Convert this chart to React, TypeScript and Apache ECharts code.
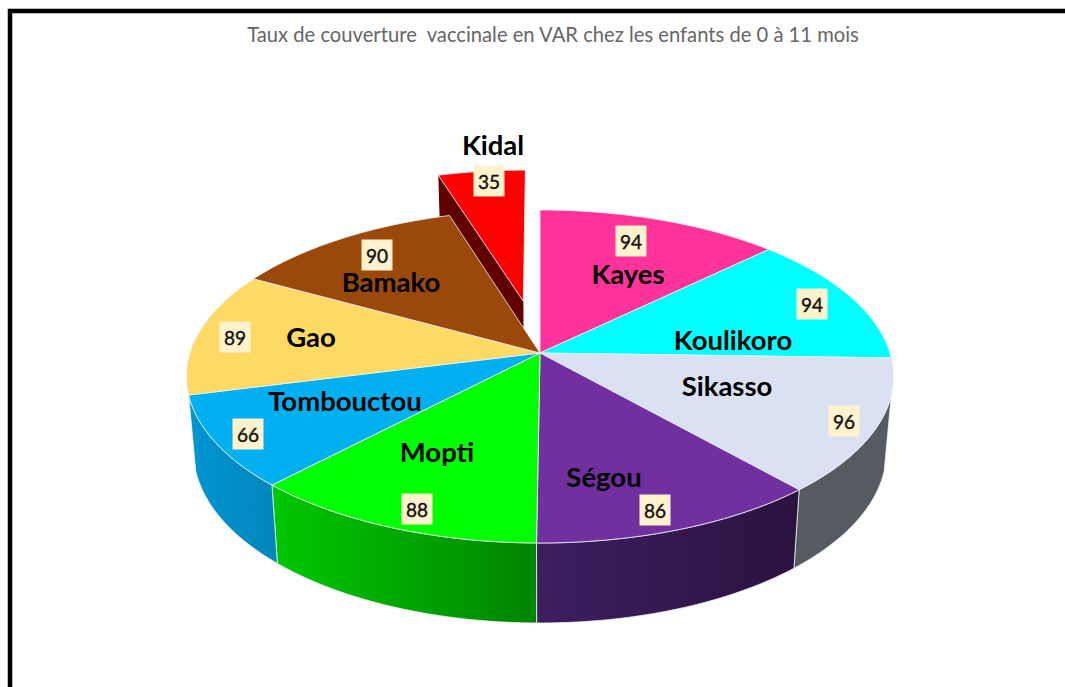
import React, { useEffect, useRef } from "react";
import * as echarts from "echarts";

const TITLE = "Taux de couverture  vaccinale en VAR chez les enfants de 0 à 11 mois";
const REGIONS = ["Kayes", "Koulikoro", "Sikasso", "Ségou", "Mopti", "Tombouctou", "Gao", "Bamako", "Kidal"];
const VALUES = [94, 94, 96, 86, 88, 66, 89, 90, 35];

// Styling and layout, separate from the data
const TOP_COLORS = ["#FF3399", "#00FFFF", "#D9E1F2", "#7030A0", "#00FF00", "#00B0F0", "#FFD966", "#9A490A", "#FF0000"];
const WALL_COLORS: string[][] = [
  ["#C02070", "#C02070"], ["#00BBBB", "#00BBBB"], ["#565A61", "#565A61"], ["#3E1E60", "#2A1240"],
  ["#00C800", "#008400"], ["#0096D2", "#0086BA"], ["#B89A40", "#B89A40"], ["#602C04", "#602C04"], ["#600000", "#600000"],
];
const EXPLODE = [0, 0, 0, 0, 0, 0, 0, 0, 0.335];
const NAME_OFFSET: number[][] = [[88, -79.5], [193, -13.5], [187, 32.5], [64, 123.5], [-103, 98.5], [-195, 47.5], [-229, -16.5], [-149, -71.5], [-47, -208.5]];
const VALUE_OFFSET: number[][] = [[91, -112], [272, -49], [304, 68], [115, 157], [-123, 156], [-292, 81], [-305, -16], [-163, -98], [-51, -172]];

const CX = 540, CY = 353, RX = 350, RY = 163.2, PERSP = 0.141;
const WALL_FROM = 104.5, WALL_TO = 255.6;
const TOTAL = VALUES.reduce((a, b) => a + b, 0);
const rad = (d: number) => (d * Math.PI) / 180;

const startAngle = (i: number) => (VALUES.slice(0, i).reduce((a, b) => a + b, 0) / TOTAL) * 360;
const topPoint = (u: number, v: number) => {
  const w = 1 + PERSP * v;
  return [CX + (RX * u) / w, CY - (RY * v) / w];
};
const bottomPoint = (u: number, v: number) => {
  const w = 1 + PERSP * v;
  return [CX + (0.98 * RX * u) / w, CY - (RY * v) / w + 74 - 6 * v];
};

function renderWedge(params: any, api: any) {
  const i = api.value(0) as number;
  const value = api.value(1) as number;
  const a0 = startAngle(i);
  const a1 = a0 + (value / TOTAL) * 360;
  const mid = rad((a0 + a1) / 2);
  const eu = EXPLODE[i] * Math.sin(mid);
  const ev = EXPLODE[i] * Math.cos(mid);
  const rim = (a: number) => [Math.sin(rad(a)) + eu, Math.cos(rad(a)) + ev];
  const children: any[] = [];
  const seam = "rgba(240,240,245,0.8)";

  if (EXPLODE[i] > 0) {
    const c = rim(a0);
    children.push({
      type: "polygon",
      shape: { points: [topPoint(eu, ev), topPoint(c[0], c[1]), bottomPoint(c[0], c[1]), bottomPoint(eu, ev)] },
      style: { fill: WALL_COLORS[i][0] },
    });
  }
  const w0 = Math.max(a0, WALL_FROM);
  const w1 = Math.min(a1, WALL_TO);
  if (w1 > w0) {
    const upper: number[][] = [];
    const lower: number[][] = [];
    for (let a = w0; a < w1; a += 1) {
      const p = rim(a);
      upper.push(topPoint(p[0], p[1]));
      lower.unshift(bottomPoint(p[0], p[1]));
    }
    const e = rim(w1);
    upper.push(topPoint(e[0], e[1]));
    lower.unshift(bottomPoint(e[0], e[1]));
    children.push({
      type: "polygon",
      shape: { points: upper.concat(lower) },
      style: {
        fill: new echarts.graphic.LinearGradient(0, 0, 1, 0, [
          { offset: 0, color: WALL_COLORS[i][0] },
          { offset: 1, color: WALL_COLORS[i][1] },
        ]),
        stroke: seam,
        lineWidth: 1,
      },
    });
  }
  const points: number[][] = [topPoint(eu, ev)];
  for (let a = a0; a < a1; a += 1) {
    const p = rim(a);
    points.push(topPoint(p[0], p[1]));
  }
  const last = rim(a1);
  points.push(topPoint(last[0], last[1]));
  children.push({
    type: "polygon",
    shape: { points },
    style: { fill: TOP_COLORS[i], stroke: seam, lineWidth: 1 },
  });
  return { type: "group", children };
}

function renderLabels(params: any, api: any) {
  const i = api.value(0) as number;
  const vx = CX + VALUE_OFFSET[i][0];
  const vy = CY + VALUE_OFFSET[i][1];
  const font = "Lato, 'Open Sans', sans-serif";
  return {
    type: "group",
    children: [
      {
        type: "rect",
        shape: { x: vx - 15.5, y: vy - 15.5, width: 31, height: 31 },
        style: { fill: "#FFF2CC" },
      },
      {
        type: "text",
        x: vx,
        y: vy,
        style: {
          text: String(api.value(1)),
          fill: "#111111",
          stroke: "#111111",
          lineWidth: 0.4,
          font: `normal 19px ${font}`,
          align: "center",
          verticalAlign: "middle",
        },
      },
      {
        type: "text",
        x: CX + NAME_OFFSET[i][0],
        y: CY + NAME_OFFSET[i][1],
        style: {
          text: REGIONS[i],
          fill: "#000000",
          font: `bold 27.5px ${font}`,
          align: "center",
          verticalAlign: "middle",
        },
      },
    ],
  };
}

export default function App() {
  const ref = useRef<HTMLDivElement>(null);
  useEffect(() => {
    document.body.style.margin = "0";
    const chart = echarts.init(ref.current!, undefined, { renderer: "svg" });
    const rows = VALUES.map((v, i) => [i, v]);
    const isExploded = (r: number[]) => EXPLODE[r[0]] > 0;
    chart.setOption({
      animation: false,
      backgroundColor: "#FFFFFF",
      title: {
        text: TITLE,
        left: 548,
        top: 18,
        textAlign: "center",
        textStyle: { color: "#666666", fontFamily: "Lato, sans-serif", fontWeight: "normal", fontSize: 20.2, lineHeight: 22 },
      },
      graphic: [
        {
          type: "polyline",
          shape: { points: [[10, 687], [10, 11], [1065, 11]] },
          style: { stroke: "#000000", fill: "none", lineWidth: 4.5 },
        },
      ],
      series: [
        { type: "custom", coordinateSystem: "none", z: 1, silent: true, renderItem: renderWedge, data: rows.filter(isExploded) },
        { type: "custom", coordinateSystem: "none", z: 2, silent: true, renderItem: renderWedge, data: rows.filter((r) => !isExploded(r)) },
        { type: "custom", coordinateSystem: "none", z: 3, silent: true, renderItem: renderLabels, data: rows },
      ],
    });
    return () => chart.dispose();
  }, []);
  return <div ref={ref} style={{ width: 1065, height: 687 }} />;
}
